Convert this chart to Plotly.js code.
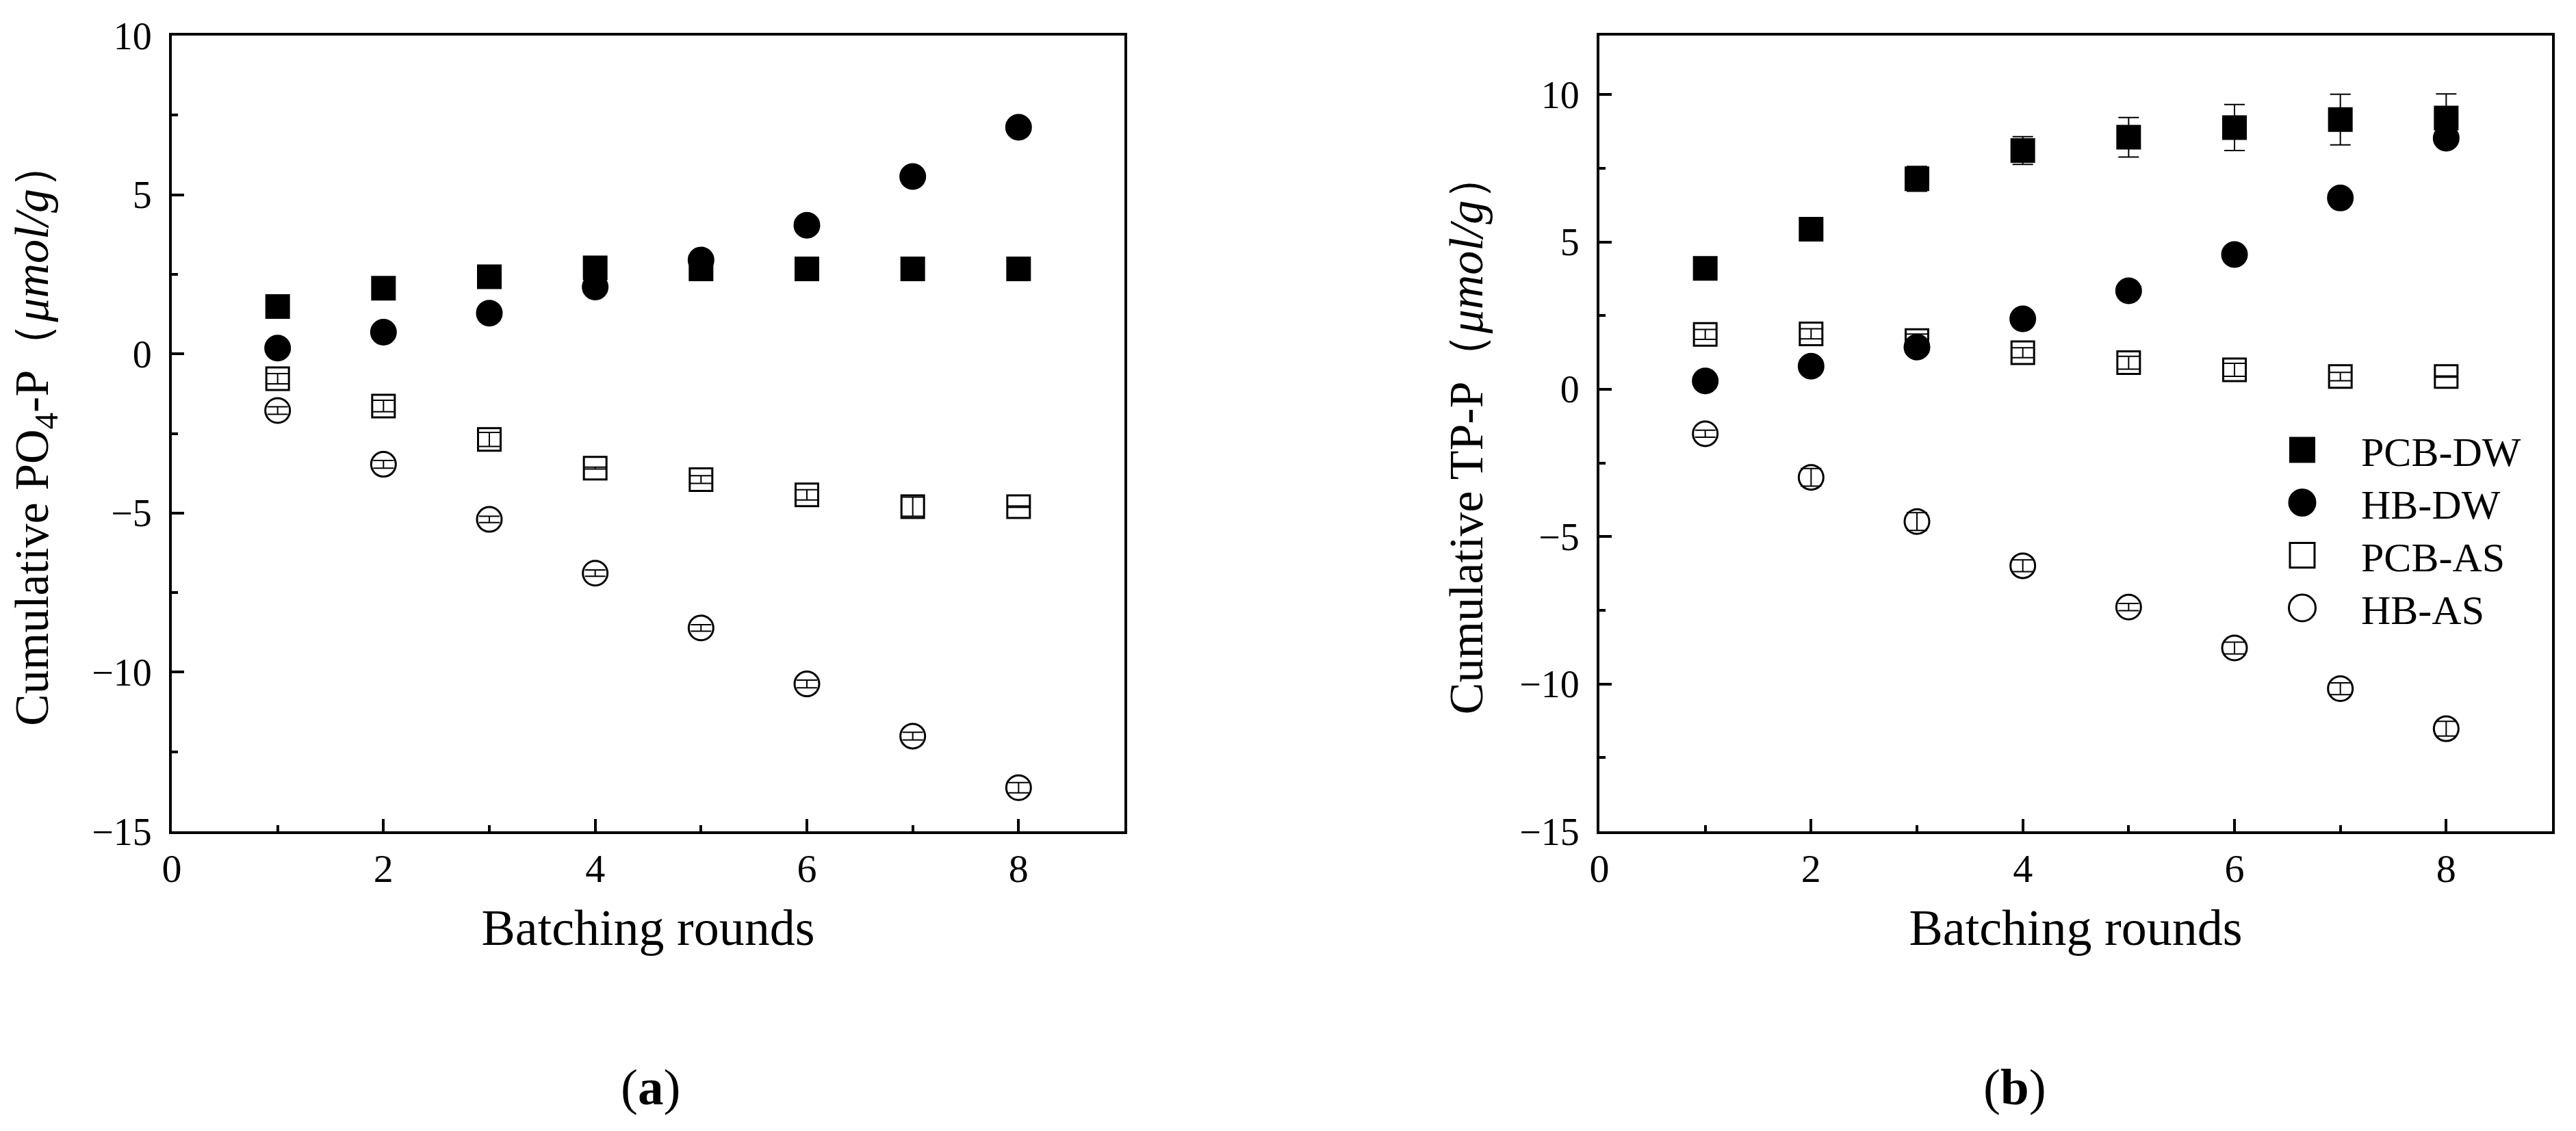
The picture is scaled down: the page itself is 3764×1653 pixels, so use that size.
<!DOCTYPE html>
<html>
<head>
<meta charset="utf-8">
<script src="https://cdn.plot.ly/plotly-3.0.1.min.js"></script>
<style>
html,body{margin:0;padding:0;background:#fff;}
#chart{width:3764px;height:1653px;}
</style>
</head>
<body>
<div id="chart"></div>
<script>
// ---------- data ----------
const rounds = [1, 2, 3, 4, 5, 6, 7, 8];
const seriesNames = ['PCB-DW', 'HB-DW', 'PCB-AS', 'HB-AS'];

// Panel (a): cumulative PO4-P (μmol/g)
const aPcbDW = [1.49, 2.06, 2.42, 2.70, 2.67, 2.67, 2.67, 2.67];
const aHbDW  = [0.18, 0.68, 1.28, 2.10, 2.95, 4.04, 5.57, 7.12];
const aPcbAS = [-0.78, -1.64, -2.69, -3.59, -3.95, -4.43, -4.80, -4.80];
const aHbAS  = [-1.78, -3.47, -5.20, -6.89, -8.61, -10.37, -12.01, -13.63];
const aPcbDWerr = [0.05, 0.05, 0.05, 0.05, 0.05, 0.05, 0.05, 0.05];
const aHbDWerr  = [0.1, 0.1, 0.1, 0.1, 0.1, 0.1, 0.1, 0.1];
const aPcbASerr = [0.16, 0.18, 0.22, 0.03, 0.12, 0.16, 0.3, 0.02];
const aHbASerr  = [0.12, 0.12, 0.1, 0.1, 0.1, 0.12, 0.12, 0.16];

// Panel (b): cumulative TP-P (μmol/g)
const bPcbDW = [4.10, 5.43, 7.14, 8.10, 8.55, 8.88, 9.15, 9.20];
const bHbDW  = [0.28, 0.78, 1.43, 2.39, 3.34, 4.57, 6.49, 8.52];
const bPcbAS = [1.86, 1.88, 1.65, 1.24, 0.90, 0.66, 0.43, 0.43];
const bHbAS  = [-1.51, -2.99, -4.49, -5.99, -7.39, -8.78, -10.16, -11.52];
const bPcbDWerr = [0.1, 0.3, 0.42, 0.47, 0.67, 0.78, 0.86, 0.82];
const bHbDWerr  = [0.1, 0.1, 0.1, 0.1, 0.1, 0.1, 0.1, 0.1];
const bPcbASerr = [0.17, 0.17, 0.22, 0.17, 0.22, 0.22, 0.14, 0.02];
const bHbASerr  = [0.12, 0.3, 0.3, 0.2, 0.12, 0.2, 0.2, 0.25];

const xTickVals = [0, 2, 4, 6, 8];
const yTickVals = [-15, -10, -5, 0, 5, 10];

// ---------- styles ----------
const FONT = 'Liberation Serif, Times New Roman, serif';
const markerStyles = [
  {symbol: 'square', size: 34, color: '#000', line: {color: '#000', width: 2}},
  {symbol: 'circle', size: 37, color: '#000', line: {color: '#000', width: 2}},
  {symbol: 'square-open', size: 33, color: '#000', line: {color: '#000', width: 3}},
  {symbol: 'circle-open', size: 36, color: '#000', line: {color: '#000', width: 3}}
];
const capWidths = [15, 15, 16, 15];

function mk(x, y, err, idx, xa, ya, showLegend) {
  return {
    type: 'scatter', mode: 'markers', x: x, y: y,
    name: seriesNames[idx], xaxis: xa, yaxis: ya, showlegend: showLegend,
    marker: Object.assign({}, markerStyles[idx], {line: Object.assign({}, markerStyles[idx].line)}),
    error_y: {type: 'data', array: err, visible: true, color: '#000', thickness: 2, width: capWidths[idx]},
    cliponaxis: false
  };
}

const traces = [
  mk(rounds, aPcbDW, aPcbDWerr, 0, 'x', 'y', false),
  mk(rounds, aHbDW, aHbDWerr, 1, 'x', 'y', false),
  mk(rounds, aPcbAS, aPcbASerr, 2, 'x', 'y', false),
  mk(rounds, aHbAS, aHbASerr, 3, 'x', 'y', false),
  mk(rounds, bPcbDW, bPcbDWerr, 0, 'x2', 'y2', true),
  mk(rounds, bHbDW, bHbDWerr, 1, 'x2', 'y2', true),
  mk(rounds, bPcbAS, bPcbASerr, 2, 'x2', 'y2', true),
  mk(rounds, bHbAS, bHbASerr, 3, 'x2', 'y2', true)
];

const W = 3764, H = 1653;
function xAxis(l, r) {
  return {
    domain: [l / W, r / W], range: [0, 9], tickmode: 'array', tickvals: xTickVals,
    ticks: 'inside', ticklen: 18, tickwidth: 4, tickcolor: '#000',
    minor: {dtick: 1, tick0: 0, ticks: 'inside', ticklen: 9, tickwidth: 4, tickcolor: '#000'},
    showline: true, linewidth: 4, linecolor: '#000', mirror: true,
    showgrid: false, zeroline: false,
    tickfont: {family: FONT, size: 58, color: '#000'}, ticklabelstandoff: 0,
    title: {text: 'Batching rounds', font: {family: FONT, size: 74, color: '#000'}, standoff: 30}
  };
}
function yAxis(range, title, standoff, anchor) {
  return {
    domain: [(H - 1215) / H, (H - 52) / H], range: range, tickmode: 'array', tickvals: yTickVals,
    ticks: 'inside', ticklen: 18, tickwidth: 4, tickcolor: '#000',
    minor: {dtick: 2.5, tick0: 0, ticks: 'inside', ticklen: 9, tickwidth: 4, tickcolor: '#000'},
    showline: true, linewidth: 4, linecolor: '#000', mirror: true,
    showgrid: false, zeroline: false, anchor: anchor,
    tickfont: {family: FONT, size: 56, color: '#000'}, ticklabelstandoff: 14,
    title: {text: title, font: {family: FONT, size: 70, color: '#000'}, standoff: standoff}
  };
}

const layout = {
  width: W, height: H,
  margin: {l: 0, r: 0, t: 0, b: 0},
  paper_bgcolor: '#fff', plot_bgcolor: '#fff',
  font: {family: FONT, color: '#000'},
  xaxis: Object.assign(xAxis(251, 1643), {anchor: 'y'}),
  yaxis: yAxis([-15, 10], 'Cumulative PO<sub>4</sub>-P（<i>μmol/g</i>）', 42, 'x'),
  xaxis2: Object.assign(xAxis(2337, 3729), {anchor: 'y2'}),
  yaxis2: yAxis([-15, 12], 'Cumulative TP-P（<i>μmol/g</i>）', 32, 'x2'),
  legend: {
    x: 3278 / W, y: 1 - 612 / H, xanchor: 'left', yanchor: 'top',
    font: {family: FONT, size: 60, color: '#000'},
    itemwidth: 162, bgcolor: 'rgba(0,0,0,0)', borderwidth: 0,
    tracegroupgap: 0
  },
  annotations: [
    {xref: 'paper', yref: 'paper', x: 951 / W, y: 1 - 1588 / H, text: '(<b>a</b>)', showarrow: false,
     font: {family: FONT, size: 75, color: '#000'}, xanchor: 'center', yanchor: 'middle'},
    {xref: 'paper', yref: 'paper', x: 2944 / W, y: 1 - 1588 / H, text: '(<b>b</b>)', showarrow: false,
     font: {family: FONT, size: 75, color: '#000'}, xanchor: 'center', yanchor: 'middle'}
  ]
};

Plotly.newPlot('chart', traces, layout, {staticPlot: true}).then(function () {
  // enlarge legend symbols to match the marker size in the plot, tighten row spacing
  const items = document.querySelectorAll('.legend .traces');
  const legendSizes = [36, 39, 36, 39];
  let x0 = null, y0 = null;
  items.forEach(function (it, i) {
    const tr = it.getAttribute('transform') || '';
    const m = tr.match(/translate\(\s*([-\d.]+)[ ,]+([-\d.]+)\s*\)/);
    if (m) {
      if (x0 === null) { x0 = parseFloat(m[1]); y0 = parseFloat(m[2]); }
      it.setAttribute('transform', 'translate(' + x0 + ',' + (y0 + i * 77) + ')');
    }
    it.querySelectorAll('.legendpoints path.scatterpts').forEach(function (p) {
      const t = p.getAttribute('transform') || '';
      const k = legendSizes[i] / 16;
      p.setAttribute('transform', t + ' scale(' + k + ')');
      p.setAttribute('vector-effect', 'non-scaling-stroke');
    });
  });
});
</script>
</body>
</html>
